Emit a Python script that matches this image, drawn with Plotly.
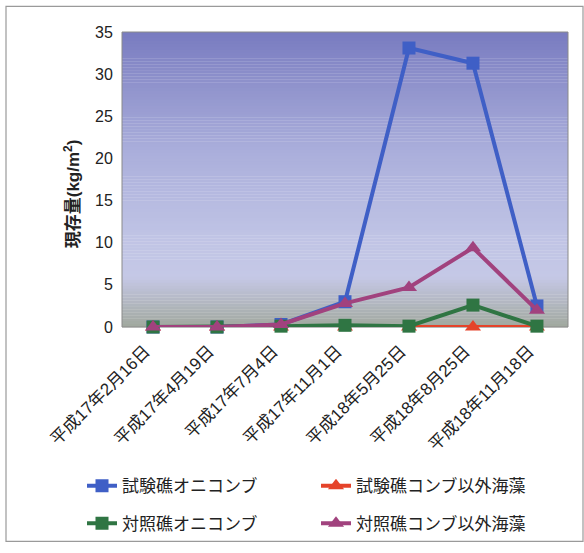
import plotly.graph_objects as go

# Survey dates (category axis)
dates = ["平成17年2月16日", "平成17年4月19日", "平成17年7月4日", "平成17年11月1日",
         "平成18年5月25日", "平成18年8月25日", "平成18年11月18日"]

# Standing stock (kg/m2) per series
test_oni = [0.0, 0.0, 0.3, 3.0, 33.1, 31.3, 2.5]       # 試験礁オニコンブ
test_other = [0.0, 0.0, 0.0, 0.0, 0.0, 0.0, 0.0]       # 試験礁コンブ以外海藻
ctrl_oni = [0.0, 0.0, 0.1, 0.2, 0.1, 2.6, 0.1]          # 対照礁オニコンブ
ctrl_other = [0.0, 0.0, 0.3, 2.8, 4.7, 9.4, 2.0]        # 対照礁コンブ以外海藻

y_ticks = [0, 5, 10, 15, 20, 25, 30, 35]

FONT = "Liberation Sans, Arial, Noto Sans CJK JP, sans-serif"

series = [
    ("試験礁オニコンブ", test_oni, "#3f5fc6", "square", 13, "legend"),
    ("試験礁コンブ以外海藻", test_other, "#e5432a", "triangle-up", 14, "legend2"),
    ("対照礁オニコンブ", ctrl_oni, "#2f7543", "square", 13, "legend3"),
    ("対照礁コンブ以外海藻", ctrl_other, "#a1427e", "triangle-up", 14, "legend4"),
]

fig = go.Figure()
for name, vals, color, sym, size, leg in series:
    fig.add_trace(go.Scatter(
        x=dates, y=vals, name=name, mode="lines+markers",
        line=dict(color=color, width=4),
        marker=dict(symbol=sym, size=size, color=color,
                    line=dict(color=color, width=0)),
        legend=leg, cliponaxis=False, showlegend=True,
    ))

# vertical gradient behind the plot area, built from horizontal bands
stops = [
    (0.00, (120, 123, 192)),
    (0.15, (140, 143, 202)),
    (0.40, (170, 174, 219)),
    (0.70, (192, 196, 229)),
    (0.83, (197, 200, 230)),
    (0.90, (182, 186, 200)),
    (1.00, (160, 168, 158)),
]

def lerp_color(t):
    for (t0, c0), (t1, c1) in zip(stops[:-1], stops[1:]):
        if t0 <= t <= t1:
            f = (t - t0) / (t1 - t0) if t1 > t0 else 0
            return tuple(round(a + (b - a) * f) for a, b in zip(c0, c1))
    return stops[-1][1]

shapes = []
n_bands = 100
for i in range(n_bands):
    top = 1 - i / n_bands
    bot = 1 - (i + 1) / n_bands
    r, g, b = lerp_color((i + 0.5) / n_bands)
    shapes.append(dict(type="rect", xref="paper", yref="paper",
                       x0=0, x1=1, y0=bot - 0.001, y1=top,
                       fillcolor=f"rgb({r},{g},{b})", line=dict(width=0),
                       layer="below"))
# plot-area frame
shapes.append(dict(type="rect", xref="paper", yref="paper", x0=0, x1=1, y0=0, y1=1,
                   line=dict(color="#8a8a8a", width=1), layer="below"))
# outer chart frame (pixel positions converted to paper coordinates)
L, T, W, H = 122, 32, 446, 300
def px_x(px):
    return (px - L) / W
def px_y(py):
    return (T + H - py) / H
shapes.append(dict(type="rect", xref="paper", yref="paper",
                   x0=px_x(6), x1=px_x(583), y0=px_y(550), y1=px_y(6),
                   line=dict(color="#9a9a9a", width=1.2), layer="below"))

legend_common = dict(orientation="h", xanchor="left", yanchor="middle",
                     bgcolor="rgba(0,0,0,0)", font=dict(family=FONT, size=17, color="#222"),
                     itemwidth=30)

fig.update_layout(
    width=584, height=553,
    margin=dict(l=L, r=584 - L - W, t=T, b=553 - T - H),
    paper_bgcolor="white", plot_bgcolor="rgba(0,0,0,0)",
    font=dict(family=FONT, color="#222"),
    showlegend=True,
    shapes=shapes,
    xaxis=dict(type="category", tickangle=-45, showgrid=False, zeroline=False,
               showline=False, ticks="", ticklabelstandoff=10, ticklabelshift=-8,
               tickfont=dict(size=17, family=FONT, color="#222")),
    yaxis=dict(range=[0, 35], tickvals=y_ticks, showgrid=False, zeroline=False,
               showline=False, ticks="outside", ticklen=5, tickcolor="rgba(0,0,0,0)",
               tickfont=dict(size=16, family=FONT, color="#222")),
    legend=dict(x=px_x(82), y=px_y(494), **legend_common),
    legend2=dict(x=px_x(316), y=px_y(494), **legend_common),
    legend3=dict(x=px_x(82), y=px_y(532), **legend_common),
    legend4=dict(x=px_x(316), y=px_y(532), **legend_common),
    annotations=[dict(text="<b>現存量(kg/m<sup>2</sup>)</b>", textangle=-90,
                      xref="paper", yref="paper", x=px_x(72), y=px_y(197),
                      xanchor="center", yanchor="middle",
                      showarrow=False, font=dict(size=17, family=FONT, color="#222"))],
)

fig.write_html("out.html")
